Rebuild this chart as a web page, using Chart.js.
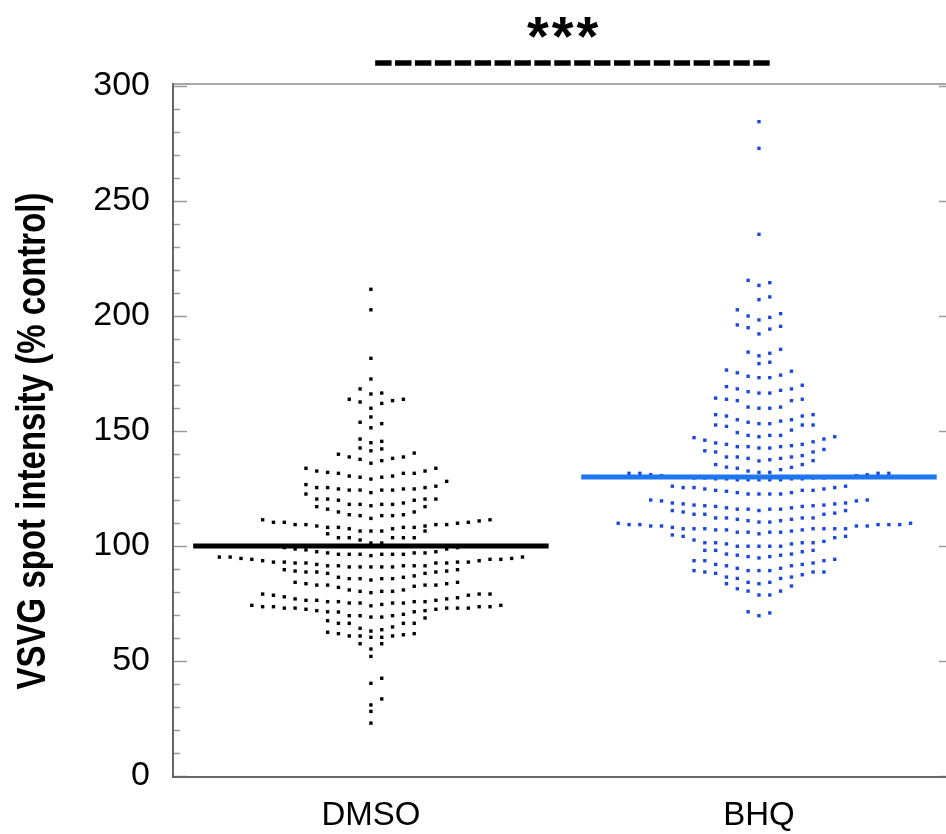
<!DOCTYPE html>
<html>
<head>
<meta charset="utf-8">
<script src="https://cdn.jsdelivr.net/npm/chart.js@4.4.1/dist/chart.umd.min.js"></script>
<style>
  html, body { margin: 0; padding: 0; background: #fff; }
</style>
</head>
<body>
<canvas id="chart" width="946" height="834"></canvas>
<script>
const groupLabels = ['DMSO', 'BHQ'];
const yTitle = 'VSVG spot intensity (% control)';
const yTicks = [0, 50, 100, 150, 200, 250, 300];
const sigLabel = '***';

const dmsoMean = 100;
const bhqMean = 130;

// each inner array is one row of the swarm (values in % control)
const dmsoRows = [
  [211.6],
  [202.7],
  [181.6],
  [172.6],
  [166.1, 166.5, 168.3],
  [159.9, 162.0, 162.6, 163.2, 163.8, 163.8],
  [156.1],
  [151.4, 153.2, 153.8],
  [144.9, 145.5, 146.5],
  [141.4, 142.2, 142.6],
  [136.0, 137.1, 137.7, 138.1, 138.7, 138.7, 139.9, 140.4],
  [129.1, 129.9, 129.9, 130.4, 130.4, 131.6, 131.6, 131.6, 132.0, 132.6, 132.6, 133.8, 133.8],
  [123.2, 124.3, 124.3, 124.3, 124.3, 124.8, 124.8, 124.8, 125.4, 125.4, 125.4, 126.0, 126.7, 128.1],
  [117.5, 118.1, 118.1, 118.1, 118.1, 118.7, 119.9, 119.9, 120.4, 120.4, 120.4, 120.4, 122.6],
  [112.0, 113.2, 113.2, 113.2, 113.6, 113.6, 114.8, 114.8, 116.0, 117.1, 117.1],
  [106.5, 106.5, 106.5, 107.5, 107.5, 108.1, 108.1, 108.1, 108.1, 108.7, 108.7, 109.3, 109.3, 109.3, 109.3, 109.9, 110.3, 110.3, 110.3, 110.9, 111.4, 111.4],
  [101.3, 101.3, 102.6, 103.6, 103.6, 103.6, 103.6, 103.6, 105.3, 106.5],
  [95.8, 96.4, 96.4, 96.4, 96.4, 96.4, 96.4, 97.0, 97.0, 97.0, 97.5, 97.5, 98.3, 98.7, 98.7, 99.3, 99.3],
  [90.9, 90.9, 90.9, 90.9, 90.9, 91.4, 91.4, 91.4, 91.4, 91.4, 92.0, 92.6, 92.6, 92.6, 92.6, 93.0, 93.0, 93.0, 93.0, 93.6, 93.6, 94.2, 94.2, 94.2, 94.6, 94.6, 95.2, 95.2, 95.2],
  [85.2, 85.8, 85.8, 85.8, 85.8, 86.4, 86.4, 87.0, 88.1, 88.1, 88.7, 88.7, 88.7, 89.1, 89.1, 89.7, 89.7],
  [79.7, 80.3, 80.3, 80.3, 80.9, 80.9, 82.0, 82.5, 83.0, 83.0, 83.0, 83.0, 83.6, 83.6, 84.2, 84.2],
  [74.0, 74.6, 75.2, 75.2, 75.2, 75.2, 75.8, 75.8, 75.8, 75.8, 76.4, 76.4, 76.4, 77.0, 77.0, 77.5, 77.9, 78.6, 78.6, 79.1, 79.1, 79.1],
  [69.1, 69.1, 69.7, 69.7, 69.7, 70.3, 71.3, 71.4, 71.4, 71.9, 71.9, 72.5, 72.5, 73.0, 73.0, 73.0, 73.0, 73.0, 73.6, 73.6, 73.6, 73.6, 74.2, 74.2],
  [63.0, 63.6, 64.2, 64.8, 66.4, 66.4, 66.4, 66.4, 67.5, 68.7],
  [60.3, 60.3, 60.9, 60.9, 60.9, 61.4, 61.9, 61.9, 62.5],
  [55.2, 57.5, 57.5],
  [52.0],
  [40.3, 42.5],
  [30.9, 33.5],
  [28.1],
  [23.0]
];

const bhqRows = [
  [284.5],
  [272.9],
  [235.5],
  [213.3, 214.5, 215.5],
  [207.1, 208.3],
  [198.3, 199.4, 200.0, 201.0, 202.7],
  [192.2, 194.3, 194.9, 195.5, 196.1],
  [182.7, 183.8, 184.3, 185.5],
  [179.3, 179.9],
  [173.2, 173.2, 173.8, 174.3, 175.3, 176.0, 176.5],
  [166.5, 166.5, 167.1, 167.7, 168.3, 168.3, 169.3, 169.9],
  [159.9, 159.9, 160.4, 160.4, 163.2, 163.2, 163.8, 163.8, 164.3],
  [153.2, 153.2, 153.8, 154.3, 154.9, 154.9, 156.5, 156.5, 157.1, 157.1],
  [147.5, 148.1, 148.1, 148.1, 149.3, 150.4, 152.0, 152.6, 152.6, 152.6],
  [142.6, 142.6, 143.2, 143.2, 143.2, 143.6, 144.2, 144.2, 144.8, 145.3, 146.0, 146.5, 147.1, 147.5],
  [137.0, 137.5, 138.1, 138.1, 138.7, 138.7, 138.7, 139.3, 140.9, 140.9, 141.4, 142.0],
  [132.0, 132.0, 132.6, 133.2, 133.8, 134.2, 134.3, 135.4, 135.4, 137.1],
  [128.8, 128.8, 128.8, 128.8, 128.8, 129.2, 129.2, 129.2, 129.2, 129.6, 129.6, 129.6, 129.6, 130.0, 130.0, 130.0, 130.0, 130.6, 130.6, 131.0, 131.0, 131.6, 131.6, 131.6, 131.6],
  [122.6, 122.6, 122.6, 122.6, 123.2, 123.2, 123.8, 124.2, 124.2, 124.2, 124.8, 124.8, 125.4, 125.4, 125.4, 126.0, 126.0],
  [115.4, 116.0, 116.0, 116.0, 116.0, 116.6, 116.6, 117.2, 117.2, 117.5, 117.5, 117.8, 117.8, 118.3, 118.3, 118.7, 118.7, 119.6, 119.6, 120.0, 120.0],
  [110.4, 110.4, 111.0, 111.0, 111.6, 111.6, 112.2, 112.2, 112.2, 112.2, 113.8, 113.8, 113.8, 114.3, 114.8, 115.4, 115.4],
  [105.3, 106.0, 106.0, 106.0, 106.0, 106.5, 107.0, 107.0, 107.0, 107.5, 107.5, 107.5, 107.5, 107.5, 107.5, 107.5, 108.1, 108.7, 108.7, 108.7, 108.7, 109.3, 109.3, 109.3, 109.3, 109.3, 109.9, 109.9],
  [99.9, 99.9, 99.9, 99.9, 99.9, 100.9, 100.9, 101.4, 101.4, 101.4, 101.4, 102.0, 102.6, 103.6, 104.2, 104.2, 104.8],
  [94.8, 95.4, 95.4, 96.0, 96.0, 96.5, 96.5, 97.5, 98.1, 98.1, 98.1],
  [89.3, 89.3, 89.3, 90.3, 90.3, 91.4, 91.4, 92.0, 92.0, 92.6, 93.6, 93.6, 93.6, 94.2],
  [83.6, 84.2, 84.2, 85.9, 85.9, 86.5, 86.5, 87.5, 88.1, 88.7, 88.7, 88.7, 89.3],
  [78.7, 78.7, 80.4, 80.4, 81.4, 82.6, 83.6],
  [69.7, 70.9, 71.4]
];

const xMin = 0.49;       // left frame
const xFrameRight = 2.5; // right frame (just past the canvas edge)
const xMax = 2.482;      // canvas edge
const dotGap = 0.0279;   // horizontal step between neighbouring dots
const meanHalf = 0.458;  // half length of the mean bars

// rows: lowest value in the middle, then alternate right / left
function swarm(rows, center) {
  const pts = [];
  rows.forEach(row => {
    const sorted = row.slice().sort((a, b) => a - b);
    sorted.forEach((v, i) => {
      const slot = i === 0 ? 0 : (i % 2 ? (i + 1) / 2 : -i / 2);
      pts.push({ x: center + slot * dotGap, y: v });
    });
  });
  return pts;
}

const FONT = "'Liberation Sans', Arial, sans-serif";

const framePlugin = {
  id: 'frame',
  afterDraw(chart) {
    const ctx = chart.ctx;
    const xs = chart.scales.x, ys = chart.scales.y;
    const left = xs.getPixelForValue(xMin);
    const right = xs.getPixelForValue(xFrameRight);
    const top = ys.getPixelForValue(300);
    const bottom = ys.getPixelForValue(0);
    ctx.save();

    // tick marks, inward on both sides
    ctx.strokeStyle = '#9a9a9a';
    ctx.lineWidth = 1.5;
    for (let v = 0; v <= 300; v += 10) {
      const py = Math.round(ys.getPixelForValue(v)) + 0.5;
      const len = v % 50 ? 7 : 14;
      ctx.beginPath();
      ctx.moveTo(left, py); ctx.lineTo(left + len, py);
      ctx.moveTo(right - len, py); ctx.lineTo(right, py);
      ctx.stroke();
    }

    // top border
    ctx.strokeStyle = '#8a8a8a';
    ctx.lineWidth = 1.5;
    ctx.beginPath();
    ctx.moveTo(left, top - 2); ctx.lineTo(right, top - 2);
    ctx.stroke();

    // left and bottom axes
    ctx.strokeStyle = '#666';
    ctx.lineWidth = 2;
    ctx.beginPath();
    ctx.moveTo(left, top - 3); ctx.lineTo(left, bottom + 1);
    ctx.lineTo(right, bottom + 1);
    ctx.stroke();

    // y axis title
    ctx.fillStyle = '#000';
    ctx.font = 'bold 41px ' + FONT;
    ctx.textAlign = 'center';
    ctx.textBaseline = 'alphabetic';
    ctx.translate(45, 441);
    ctx.rotate(-Math.PI / 2);
    ctx.fillText(yTitle, 0, 0, 497);
    ctx.setTransform(1, 0, 0, 1, 0, 0);

    // significance bar
    const x1 = xs.getPixelForValue(1.011);
    const x2 = xs.getPixelForValue(2.036);
    ctx.strokeStyle = '#000';
    ctx.lineWidth = 5.5;
    ctx.setLineDash([16.4, 3.5]);
    ctx.beginPath();
    ctx.moveTo(x1, 63); ctx.lineTo(x2, 63);
    ctx.stroke();
    ctx.setLineDash([]);

    ctx.font = 'bold 56px ' + FONT;
    ctx.letterSpacing = '3px';
    ctx.textAlign = 'center';
    ctx.fillText(sigLabel, xs.getPixelForValue(1.494) + 1.5, 55);
    ctx.restore();
  }
};

new Chart(document.getElementById('chart'), {
  type: 'scatter',
  data: {
    datasets: [
      {
        label: 'DMSO mean',
        data: [{ x: 1 - meanHalf, y: dmsoMean }, { x: 1 + meanHalf, y: dmsoMean }],
        showLine: true,
        borderColor: '#000',
        borderWidth: 5,
        pointRadius: 0,
        order: 0
      },
      {
        label: 'BHQ mean',
        data: [{ x: 2 - meanHalf, y: bhqMean }, { x: 2 + meanHalf, y: bhqMean }],
        showLine: true,
        borderColor: '#1f74f0',
        borderWidth: 5,
        pointRadius: 0,
        order: 0
      },
      {
        label: 'DMSO',
        data: swarm(dmsoRows, 1),
        pointStyle: 'rect',
        pointRadius: 2.4,
        pointBorderWidth: 0,
        backgroundColor: '#000',
        order: 1
      },
      {
        label: 'BHQ',
        data: swarm(bhqRows, 2),
        pointStyle: 'rect',
        pointRadius: 2.4,
        pointBorderWidth: 0,
        backgroundColor: '#1a48d8',
        order: 1
      }
    ]
  },
  options: {
    responsive: false,
    animation: false,
    events: [],
    layout: { padding: { top: 86, left: 0, right: 0, bottom: 0 }, autoPadding: false },
    plugins: { legend: { display: false }, tooltip: { enabled: false } },
    scales: {
      x: {
        type: 'linear',
        min: xMin,
        max: xMax,
        grid: { display: false, drawTicks: false },
        border: { display: false },
        afterBuildTicks: s => { s.ticks = groupLabels.map((g, i) => ({ value: i + 1 })); },
        afterFit: s => { s.height = 58; },
        ticks: {
          autoSkip: false,
          maxRotation: 0,
          padding: 20,
          color: '#000',
          font: { family: FONT, size: 33 },
          callback: v => groupLabels[Math.round(v) - 1]
        }
      },
      y: {
        min: 0,
        max: 300,
        grid: { display: false, drawTicks: false },
        border: { display: false },
        afterBuildTicks: s => { s.ticks = yTicks.map(v => ({ value: v })); },
        afterFit: s => { s.width = 173; },
        ticks: {
          padding: 23,
          color: '#000',
          font: { family: FONT, size: 34 }
        }
      }
    }
  },
  plugins: [framePlugin]
});
</script>
</body>
</html>
